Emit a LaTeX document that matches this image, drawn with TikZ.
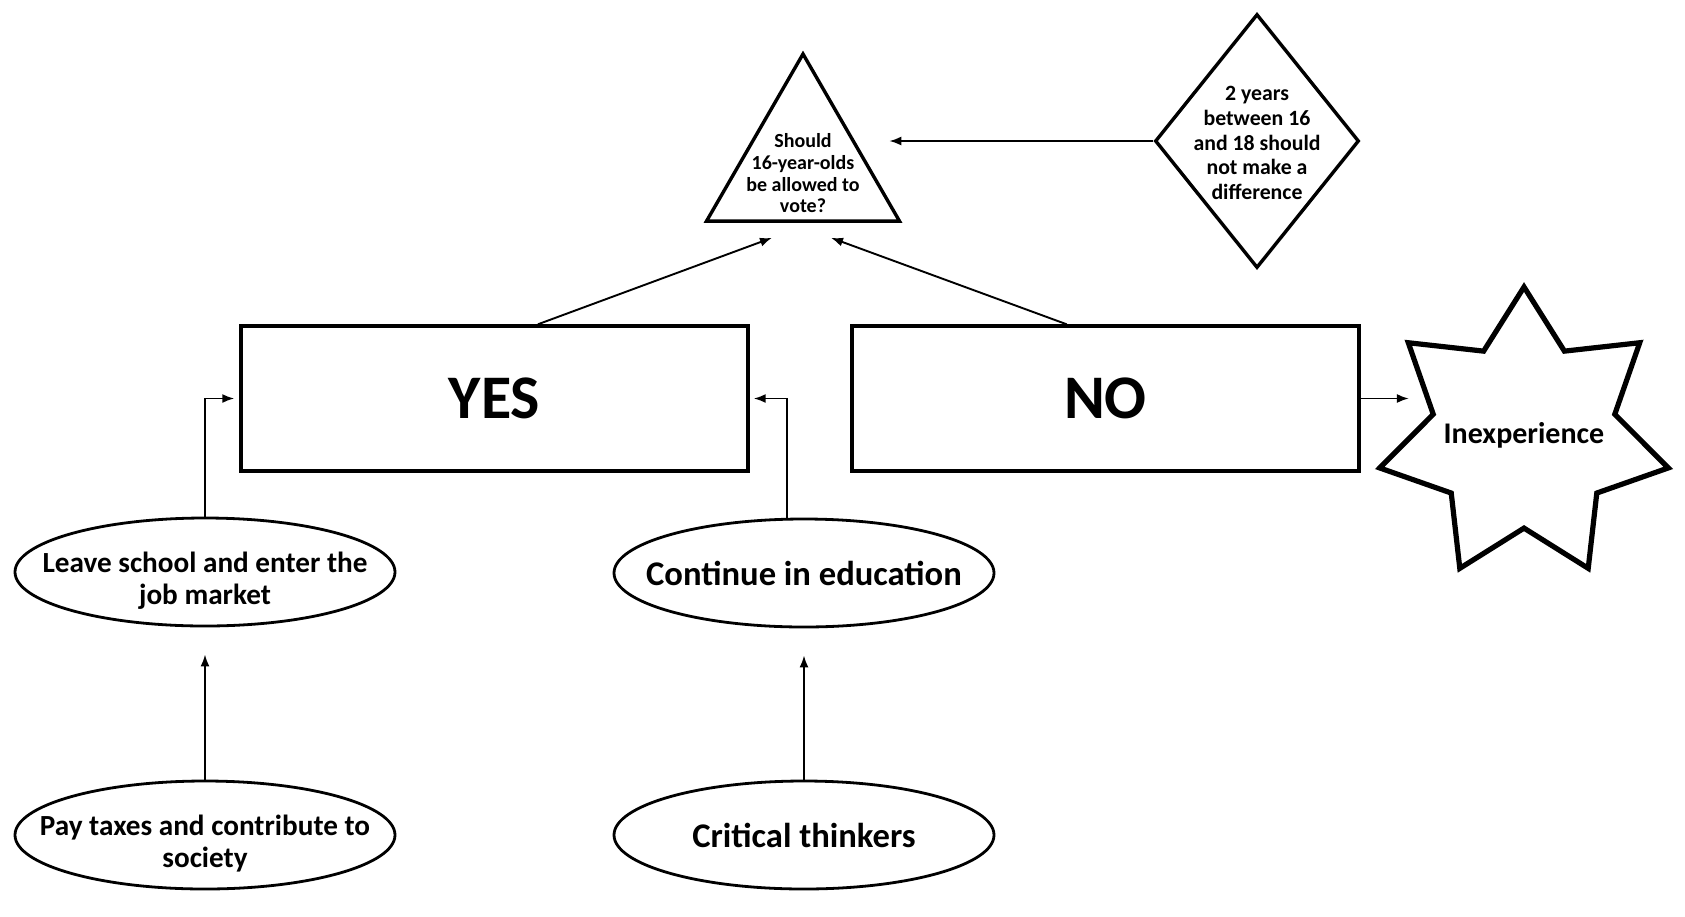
\documentclass[tikz,border=0pt]{standalone}
\usepackage{fontspec}
\setmainfont{Carlito}
\usetikzlibrary{arrows.meta,positioning,shapes.geometric,calc}

\begin{document}
\begin{tikzpicture}[
  x=0.5pt, y=-0.5pt,
  font=\bfseries,
  >={Latex[length=6pt,width=4.5pt]},
  answerbox/.style={
    draw,
    line width=1.7pt,
    minimum width=253.5pt,
    minimum height=72.5pt,
    inner sep=0pt,
    font=\fontsize{31pt}{36pt}\selectfont\bfseries
  },
  bubble/.style={
    draw,
    ellipse,
    line width=1.4pt,
    minimum width=190pt,
    minimum height=54pt,
    inner sep=0pt
  },
  bubbletext/.style={
    align=center,
    yshift=-4.5pt,
    font=\fontsize{14.6pt}{16pt}\selectfont\bfseries
  },
  bigtext/.style={
    align=center,
    font=\fontsize{17.3pt}{20pt}\selectfont\bfseries
  },
  linkarrow/.style={
    ->,
    line width=0.95pt
  }
]

  \useasboundingbox (0,0) rectangle (1685,916);

  % Question and side remark
  \node[draw, regular polygon, regular polygon sides=3, minimum size=111.4pt,
    inner sep=0pt, line width=1.7pt,
    label={[align=center, yshift=-4pt, font=\fontsize{10pt}{10.8pt}\selectfont\bfseries]center:{Should\\16-year-olds\\be allowed to\\vote?}}]
    (tri) at (803,165.4) {};

  \node[draw, diamond, minimum width=102pt, minimum height=127pt,
    inner sep=0pt, line width=1.7pt,
    label={[align=center, yshift=-1pt, font=\fontsize{10.9pt}{12.4pt}\selectfont\bfseries]center:{2 years\\between 16\\and 18 should\\not make a\\difference}}]
    (diam) at (1257,141) {};

  % Answers
  \node[answerbox] (yes) at (494.5,398.5) {YES};
  \node[answerbox, right=50.3pt of yes] (no) {NO};

  \node[draw, star, star points=7, star point ratio=1.59, minimum size=148pt,
    inner sep=0pt, line width=2.6pt,
    label={[align=center, font=\fontsize{15pt}{17pt}\selectfont\bfseries]center:{Inexperience}}]
    (inexp) at (1524,435) {};

  % Reasons
  \node[bubble, label={[bubbletext]center:{Leave school and enter the\\job market}}] (leave) at (205,572) {};
  \node[bubble, label={[bigtext]center:{Continue in education}}] (cont) at (804,573) {};
  \node[bubble, label={[bubbletext]center:{Pay taxes and contribute to\\society}}] (pay) at (205,835) {};
  \node[bubble, label={[bigtext]center:{Critical thinkers}}] (crit) at (804,835) {};

  % Connecting arrows
  \draw[linkarrow, shorten >=10pt] (diam.west) -- (diam.west -| tri.east);
  \draw[linkarrow] ($(yes.north west)!0.585!(yes.north east)$) -- ($(tri.south)+(-31,15)$);
  \draw[linkarrow] ($(no.north west)!0.424!(no.north east)$) -- ($(tri.south)+(28,15)$);
  \draw[linkarrow] (no.east) -- (no.east -| inexp.west);
  \draw[linkarrow, shorten >=2.5pt] (leave.north) |- (yes.west);
  \draw[linkarrow, shorten >=2pt] ($(cont.north)+(-17,0)$) |- (yes.east);
  \draw[linkarrow, shorten >=13.5pt] (pay.north) -- (leave.south);
  \draw[linkarrow, shorten >=13.5pt] (crit.north) -- (cont.south);

\end{tikzpicture}
\end{document}
